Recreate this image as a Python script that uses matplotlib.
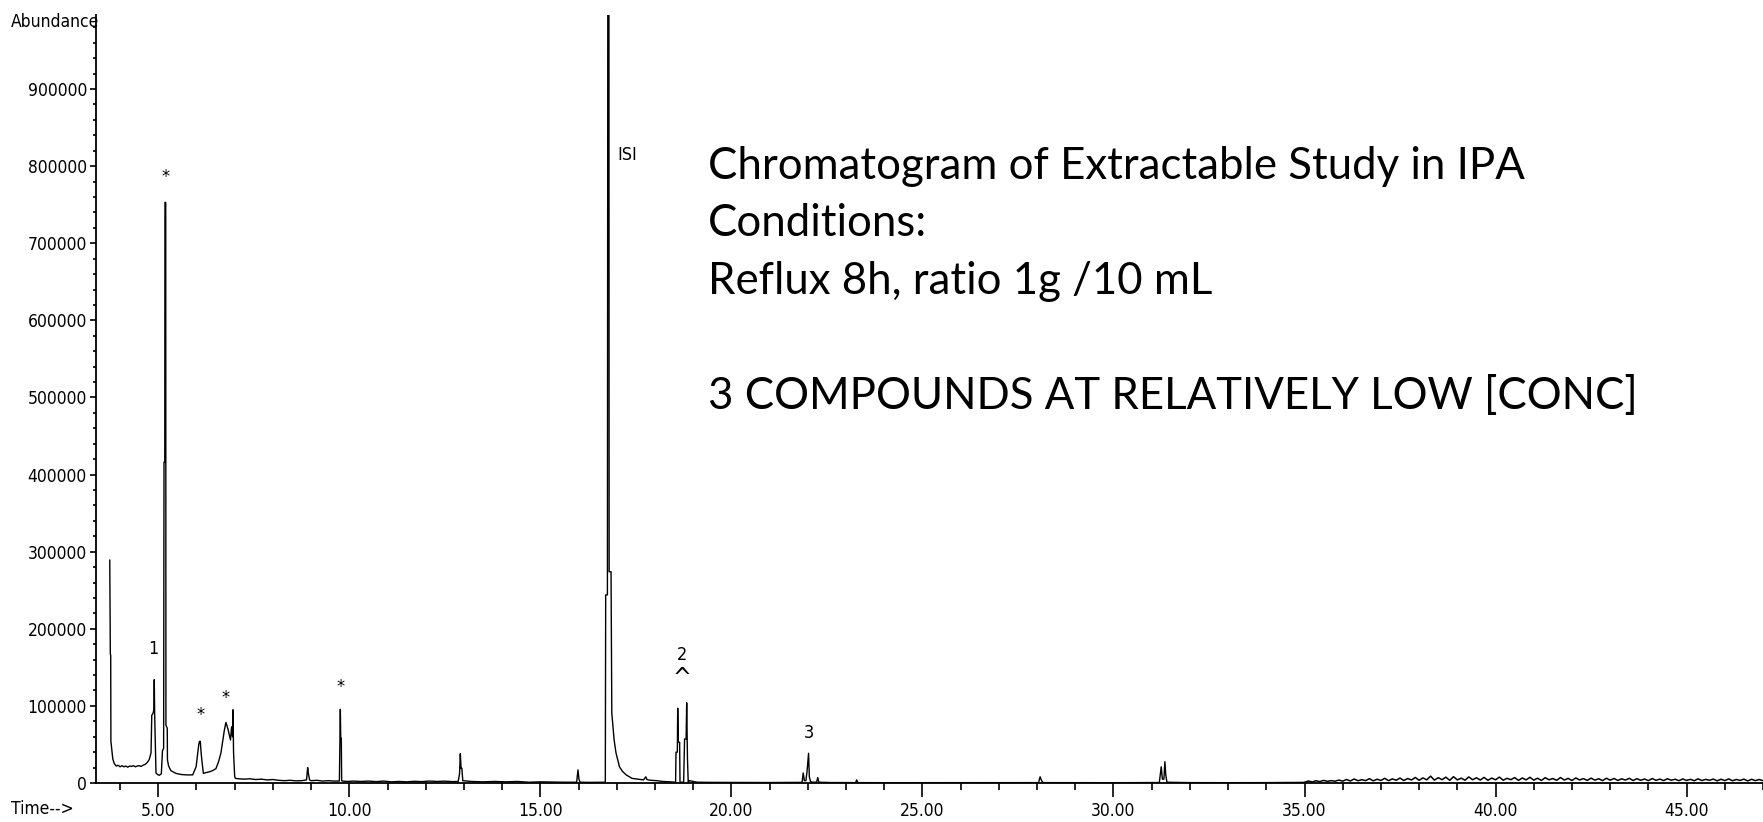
import matplotlib
matplotlib.use("Agg")
import matplotlib.pyplot as plt
from matplotlib.ticker import MultipleLocator, FixedLocator, FuncFormatter

# trace (retention time in min, abundance)
rt = [3.73, 3.745, 3.755, 3.76, 3.785, 3.81, 3.85, 3.90, 3.95, 4.00, 4.05, 4.10,
      4.15, 4.20, 4.25, 4.30, 4.35, 4.40, 4.45, 4.50, 4.55, 4.60, 4.65, 4.70,
      4.76, 4.81, 4.83, 4.86, 4.885, 4.895, 4.905, 4.92, 4.94, 4.98, 5.03, 5.08,
      5.11, 5.14, 5.15, 5.17, 5.175, 5.195, 5.20, 5.235, 5.24, 5.27, 5.33, 5.46,
      5.60, 5.75, 5.90, 5.99, 6.06, 6.08, 6.10, 6.12, 6.14, 6.18, 6.25, 6.34,
      6.42, 6.51, 6.58, 6.64, 6.73, 6.77, 6.80, 6.83, 6.89, 6.92, 6.945, 6.955,
      6.97, 7.00, 7.02, 7.10, 7.25, 7.40, 7.55, 7.70, 7.85, 8.00, 8.15, 8.30,
      8.45, 8.60, 8.75, 8.88, 8.91, 8.93, 8.96, 9.00, 9.15, 9.30, 9.45, 9.60,
      9.74, 9.765, 9.775, 9.79, 9.80, 9.82, 9.95, 10.10, 10.30, 10.50, 10.70, 10.90,
      11.10, 11.30, 11.50, 11.70, 11.90, 12.10, 12.30, 12.50, 12.70, 12.85, 12.885, 12.905,
      12.925, 12.945, 12.97, 13.20, 13.50, 13.80, 14.10, 14.40, 14.70, 15.00, 15.30, 15.60,
      15.95, 15.985, 16.01, 16.04, 16.30, 16.55, 16.70, 16.71, 16.755, 16.765, 16.795, 16.80,
      16.85, 16.87, 16.93, 16.98, 17.07, 17.15, 17.25, 17.40, 17.55, 17.70, 17.76, 17.79,
      17.82, 17.90, 18.05, 18.20, 18.40, 18.54, 18.55, 18.585, 18.595, 18.61, 18.645, 18.655,
      18.75, 18.775, 18.815, 18.83, 18.85, 18.87, 18.90, 19.00, 19.10, 19.50, 20.00, 20.50,
      21.00, 21.50, 21.85, 21.88, 21.91, 21.95, 21.98, 22.02, 22.04, 22.07, 22.12, 22.23,
      22.26, 22.29, 22.60, 23.00, 23.25, 23.28, 23.31, 24.00, 25.00, 26.00, 27.00, 28.04,
      28.08, 28.12, 28.16, 29.00, 30.00, 31.20, 31.25, 31.28, 31.32, 31.345, 31.37, 31.40,
      32.00, 33.00, 34.00, 35.00]
abund = [289000, 168000, 165000, 54000, 42000, 31000, 25000, 22000, 23000, 21000, 22500, 21000,
         22000, 20500, 22000, 21500, 22500, 21000, 22000, 22500, 21500, 23000, 24000, 26000,
         30000, 39000, 88000, 90000, 95000, 134000, 90000, 55000, 13000, 11000, 10000, 12000,
         42000, 45000, 416000, 416000, 753000, 753000, 75000, 71000, 30000, 22000, 16000, 12500,
         11000, 10500, 10500, 21000, 50000, 54000, 54000, 40000, 29800, 12500, 13500, 14500,
         16000, 18700, 28000, 39000, 68700, 78600, 74000, 68700, 55700, 73000, 60000, 95000,
         40000, 8000, 6000, 5500, 5000, 5500, 4500, 5000, 4000, 4500, 3500, 3000,
         3500, 2800, 3000, 4000, 20000, 12000, 4000, 3000, 3500, 2500, 3000, 2500,
         2500, 95600, 58000, 58000, 3000, 2500, 2000, 2500, 2000, 2500, 1800, 2500,
         1500, 2000, 1500, 2200, 1800, 2500, 2000, 2400, 1800, 2000, 12000, 38000,
         19000, 19000, 3000, 2000, 1500, 2000, 1500, 2000, 1000, 1500, 1200, 1000,
         1000, 17000, 5000, 1000, 800, 900, 1000, 244000, 244000, 1000000, 1000000, 274000,
         274000, 91000, 56000, 39000, 21000, 15000, 10400, 6000, 5000, 4000, 8000, 4500,
         4000, 3500, 3000, 2000, 1500, 1000, 40000, 40000, 97000, 53000, 53000, 1000,
         1000, 57000, 57000, 104000, 32000, 1000, 3000, 2000, 1000, 800, 700, 600,
         600, 700, 800, 13000, 3000, 3000, 15000, 38500, 8000, 2000, 1000, 1000,
         7000, 1000, 600, 500, 500, 4000, 500, 400, 400, 300, 400, 500,
         8000, 3000, 500, 400, 400, 600, 21000, 5000, 5000, 27600, 10000, 1000,
         500, 400, 500, 800]

# baseline noise at the end of the run
noise_rt = [35.0, 35.1, 35.2, 35.3, 35.4, 35.5, 35.6, 35.7, 35.8, 35.9,
            36.0, 36.1, 36.2, 36.3, 36.4, 36.5, 36.6, 36.7, 36.8, 36.9,
            37.0, 37.1, 37.2, 37.3, 37.4, 37.5, 37.6, 37.7, 37.8, 37.9,
            38.0, 38.1, 38.2, 38.3, 38.4, 38.5, 38.6, 38.7, 38.8, 38.9,
            39.0, 39.1, 39.2, 39.3, 39.4, 39.5, 39.6, 39.7, 39.8, 39.9,
            40.0, 40.1, 40.2, 40.3, 40.4, 40.5, 40.6, 40.7, 40.8, 40.9,
            41.0, 41.1, 41.2, 41.3, 41.4, 41.5, 41.6, 41.7, 41.8, 41.9,
            42.0, 42.1, 42.2, 42.3, 42.4, 42.5, 42.6, 42.7, 42.8, 42.9,
            43.0, 43.1, 43.2, 43.3, 43.4, 43.5, 43.6, 43.7, 43.8, 43.9,
            44.0, 44.1, 44.2, 44.3, 44.4, 44.5, 44.6, 44.7, 44.8, 44.9,
            45.0, 45.1, 45.2, 45.3, 45.4, 45.5, 45.6, 45.7, 45.8, 45.9,
            46.0, 46.1, 46.2, 46.3, 46.4, 46.5, 46.6, 46.7, 46.8, 46.9, 47.0]
noise_ab = [800, 2600, 1400, 2900, 1800, 3400, 2100, 3100, 2300, 3800,
            2400, 4600, 2600, 5200, 2900, 4300, 3100, 5600, 2800, 4900,
            3300, 6100, 3000, 5300, 3600, 6400, 3200, 5800, 3900, 7200,
            3500, 6600, 4100, 8900, 3700, 6900, 4300, 7600, 3400, 8200,
            4000, 6300, 3600, 7900, 4200, 6800, 3800, 7300, 3500, 6400,
            4100, 7700, 3600, 6100, 4300, 7000, 3400, 6500, 4000, 7400,
            3700, 6200, 3300, 6900, 4100, 5800, 3500, 7100, 3800, 6000,
            3200, 6600, 3900, 5700, 3400, 6300, 3700, 5500, 3100, 6200,
            3600, 5900, 3300, 5400, 3800, 6100, 3200, 5600, 3500, 5200,
            3000, 5800, 3400, 5100, 3100, 5500, 3600, 4900, 3000, 5300,
            3300, 4800, 2900, 5400, 3200, 4700, 3500, 5100, 2800, 4900,
            3100, 5300, 2900, 4600, 3300, 5000, 2700, 4800, 3100, 4500, 3000]

# peak labels
lab_text = ["*", "1", "*", "*", "*", "ISI", "2", "^", "3"]
lab_rt = [5.19, 4.88, 6.10, 6.77, 9.77, 17.28, 18.70, 18.70, 22.04]
lab_y = [786000, 174000, 88000, 110000, 124000, 814000, 166000, 136000, 64500]

y_ticks = [0, 100000, 200000, 300000, 400000, 500000, 600000, 700000, 800000, 900000]
x_ticks = [5, 10, 15, 20, 25, 30, 35, 40, 45]

note_lines = ["Chromatogram of Extractable Study in IPA",
              "Conditions:",
              "Reflux 8h, ratio 1g /10 mL",
              "",
              "3 COMPOUNDS AT RELATIVELY LOW [CONC]"]

narrow = dict(family="DejaVu Sans", stretch="condensed")

W, H = 1763, 822
fig = plt.figure(figsize=(W / 100, H / 100), dpi=100)
ax = fig.add_axes([96 / W, 1 - 783 / H, 1 - 96 / W, (783 - 15) / H])

ax.plot(rt, abund, color="black", lw=1.0)
ax.plot(noise_rt, noise_ab, color="black", lw=1.1)

ax.set_xlim(3.37, 47.0)
ax.set_ylim(0, 996000)

for s in ["top", "right"]:
    ax.spines[s].set_visible(False)
ax.spines["left"].set_linewidth(1.3)
ax.spines["bottom"].set_linewidth(1.3)

ax.xaxis.set_major_locator(FixedLocator(x_ticks))
ax.xaxis.set_minor_locator(MultipleLocator(1))
ax.xaxis.set_major_formatter(FuncFormatter(lambda v, p: "%.2f" % v))
ax.yaxis.set_major_locator(FixedLocator(y_ticks))
ax.yaxis.set_minor_locator(MultipleLocator(20000))
ax.yaxis.set_major_formatter(FuncFormatter(lambda v, p: "%d" % v))

ax.tick_params(axis="x", which="major", length=10, width=1.2, pad=4)
ax.tick_params(axis="x", which="minor", length=5, width=1.2)
ax.tick_params(axis="y", which="major", length=4.5, width=1.2, pad=2)
ax.tick_params(axis="y", which="minor", length=2, width=1.2)
for lbl in ax.get_xticklabels() + ax.get_yticklabels():
    lbl.set_family(narrow["family"])
    lbl.set_stretch(narrow["stretch"])
    lbl.set_fontsize(12.5)

for t, x, y in zip(lab_text, lab_rt, lab_y):
    ax.text(x, y, t, fontsize=18 if t == "^" else 13, ha="center",
            va="center", **narrow)

fig.text(11 / W, 1 - 22 / H, "Abundance", fontsize=12.5, va="center", **narrow)
fig.text(11 / W, 1 - 809 / H, "Time-->", fontsize=12.5, va="center", **narrow)

for i, line in enumerate(note_lines):
    fig.text(708 / W, 1 - (179 + 57.5 * i) / H, line, family="Lato",
             fontsize=31.5, va="baseline", ha="left")

fig.savefig("out.png", dpi=100)
